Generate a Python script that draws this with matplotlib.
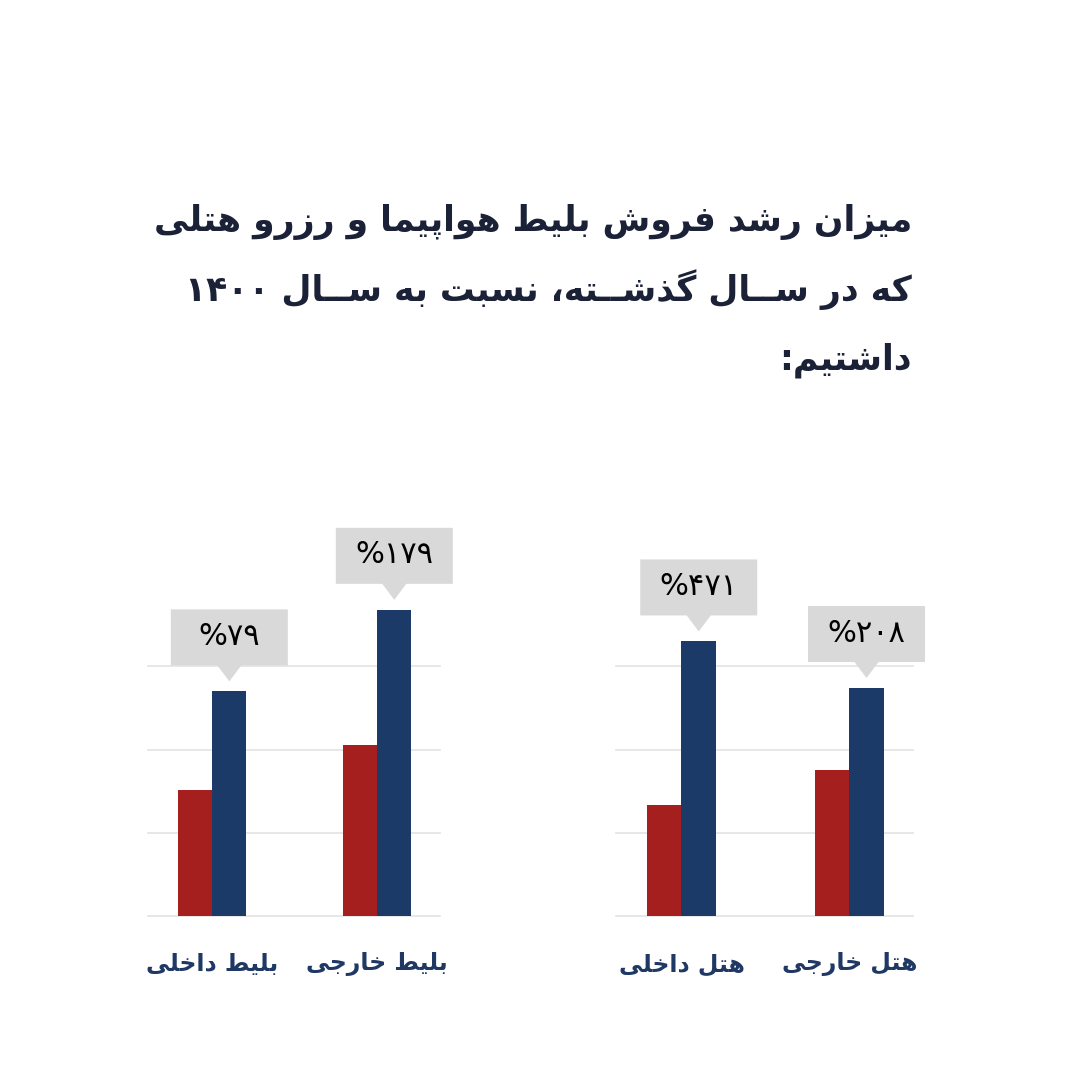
import re
import matplotlib
matplotlib.use("Agg")
import matplotlib.pyplot as plt
from matplotlib.patches import Polygon
from matplotlib.transforms import Affine2D

# ---------------- data ----------------
title_lines = ["میزان رشد فروش بلیط هواپیما و رزرو هتلی",
               "که در ســال گذشــته، نسبت به ســال ۱۴۰۰",
               "داشتیم:"]
ticket_cats = ["بلیط داخلی", "بلیط خارجی"]
ticket_prev = [1.51, 2.05]
ticket_curr = [2.70, 3.68]
ticket_growth = ["%۷۹", "%۱۷۹"]
hotel_cats = ["هتل داخلی", "هتل خارجی"]
hotel_prev = [1.33, 1.76]
hotel_curr = [3.30, 2.74]
hotel_growth = ["%۴۷۱", "%۲۰۸"]

# ---------------- minimal Arabic/Persian shaping ----------------
FORMS = {
    '\u0627': ('\uFE8D', '\uFE8E', None, None),
    '\u0628': ('\uFE8F', '\uFE90', '\uFE91', '\uFE92'),
    '\u062A': ('\uFE95', '\uFE96', '\uFE97', '\uFE98'),
    '\u062B': ('\uFE99', '\uFE9A', '\uFE9B', '\uFE9C'),
    '\u062C': ('\uFE9D', '\uFE9E', '\uFE9F', '\uFEA0'),
    '\u062D': ('\uFEA1', '\uFEA2', '\uFEA3', '\uFEA4'),
    '\u062E': ('\uFEA5', '\uFEA6', '\uFEA7', '\uFEA8'),
    '\u062F': ('\uFEA9', '\uFEAA', None, None),
    '\u0630': ('\uFEAB', '\uFEAC', None, None),
    '\u0631': ('\uFEAD', '\uFEAE', None, None),
    '\u0632': ('\uFEAF', '\uFEB0', None, None),
    '\u0633': ('\uFEB1', '\uFEB2', '\uFEB3', '\uFEB4'),
    '\u0634': ('\uFEB5', '\uFEB6', '\uFEB7', '\uFEB8'),
    '\u0635': ('\uFEB9', '\uFEBA', '\uFEBB', '\uFEBC'),
    '\u0636': ('\uFEBD', '\uFEBE', '\uFEBF', '\uFEC0'),
    '\u0637': ('\uFEC1', '\uFEC2', '\uFEC3', '\uFEC4'),
    '\u0638': ('\uFEC5', '\uFEC6', '\uFEC7', '\uFEC8'),
    '\u0639': ('\uFEC9', '\uFECA', '\uFECB', '\uFECC'),
    '\u063A': ('\uFECD', '\uFECE', '\uFECF', '\uFED0'),
    '\u0641': ('\uFED1', '\uFED2', '\uFED3', '\uFED4'),
    '\u0642': ('\uFED5', '\uFED6', '\uFED7', '\uFED8'),
    '\u0644': ('\uFEDD', '\uFEDE', '\uFEDF', '\uFEE0'),
    '\u0645': ('\uFEE1', '\uFEE2', '\uFEE3', '\uFEE4'),
    '\u0646': ('\uFEE5', '\uFEE6', '\uFEE7', '\uFEE8'),
    '\u0647': ('\uFEE9', '\uFEEA', '\uFEEB', '\uFEEC'),
    '\u0648': ('\uFEED', '\uFEEE', None, None),
    '\u06CC': ('\uFBFC', '\uFBFD', '\uFBFE', '\uFBFF'),
    '\u06A9': ('\uFB8E', '\uFB8F', '\uFB90', '\uFB91'),
    '\u06AF': ('\uFB92', '\uFB93', '\uFB94', '\uFB95'),
    '\u067E': ('\uFB56', '\uFB57', '\uFB58', '\uFB59'),
    '\u0686': ('\uFB7A', '\uFB7B', '\uFB7C', '\uFB7D'),
    '\u0698': ('\uFB8A', '\uFB8B', None, None),
}
TATWEEL = '\u0640'


def _dual(c):
    return c == TATWEEL or (c in FORMS and FORMS[c][2] is not None)


def _joining(c):
    return c == TATWEEL or c in FORMS


def shape(text):
    chars = [c for c in text if c != '\u200c']
    out = []
    i = 0
    n = len(chars)
    while i < n:
        c = chars[i]
        prev_c = i > 0 and _dual(chars[i - 1])
        if c == '\u0644' and i + 1 < n and chars[i + 1] == '\u0627':
            out.append('\uFEFC' if prev_c else '\uFEFB')
            i += 2
            continue
        if c == TATWEEL or c not in FORMS:
            out.append(c)
            i += 1
            continue
        next_c = i + 1 < n and _joining(chars[i + 1])
        iso, fin, ini, med = FORMS[c]
        if ini is not None and prev_c and next_c:
            out.append(med)
        elif prev_c:
            out.append(fin)
        elif ini is not None and next_c:
            out.append(ini)
        else:
            out.append(iso)
        i += 1
    s = ''.join(out)[::-1]
    return re.sub(r'[0-9\u06F0-\u06F9%\u066A.]+', lambda m: m.group(0)[::-1], s)


# ---------------- figure ----------------
FONT = ["DejaVu Sans"]
plt.rcParams['font.family'] = FONT
fig = plt.figure(figsize=(10.8, 10.8), dpi=100)
fig.patch.set_facecolor('white')

RED = '#a51f1f'
BLUE = '#1b3a68'
GRID = '#e3e3e3'
LABEL = '#1f3864'
TITLE = '#1b2238'
BOX = '#d9d9d9'

W, H = 1080, 1080
bottom_px = 916
top_px = 500


def make_axes(left_px, right_px, cats, prev, curr, growth):
    ax = fig.add_axes([left_px / W, 1 - bottom_px / H,
                       (right_px - left_px) / W, (bottom_px - top_px) / H])
    ax.set_xlim(-0.39, 1.38)
    ax.set_ylim(0, 5)
    x = list(range(len(cats)))
    bw = 0.206
    ax.bar([v - bw / 2 for v in x], prev, width=bw, color=RED, zorder=3)
    ax.bar([v + bw / 2 for v in x], curr, width=bw, color=BLUE, zorder=3)
    ax.set_yticks([0, 1, 2, 3])
    ax.yaxis.grid(True, color=GRID, linewidth=1.2, clip_on=False)
    for gl in ax.get_ygridlines():
        gl.set_clip_on(False)
    ax.set_axisbelow(True)
    for sp in ax.spines.values():
        sp.set_visible(False)
    ax.tick_params(axis='y', length=0, labelleft=False)
    ax.set_xticks(x)
    ax.set_xticklabels([shape(c) for c in cats], fontsize=17, fontweight='bold',
                       color=LABEL)
    ax.tick_params(axis='x', length=0, pad=26)
    ax.set_facecolor('none')
    fig.canvas.draw()
    for xi, yi, g in zip(x, curr, growth):
        px, py = ax.transData.transform((xi + bw / 2, yi))
        verts = [(0, 10), (-12, 26), (-58.5, 26), (-58.5, 82), (58.5, 82),
                 (58.5, 26), (12, 26)]
        poly = Polygon(verts, closed=True, facecolor=BOX, edgecolor='none',
                       transform=Affine2D().translate(px, py), clip_on=False,
                       zorder=5)
        fig.add_artist(poly)
        fig.text(px / W, (py + 55) / H, shape(g), ha='center', va='center',
                 fontsize=22, color='black', zorder=6)
    return ax


make_axes(148, 440, ticket_cats, ticket_prev, ticket_curr, ticket_growth)
make_axes(616, 913, hotel_cats, hotel_prev, hotel_curr, hotel_growth)

ys = [222, 290, 360]
title_texts = []
for line, y in zip(title_lines, ys):
    t = fig.text(912 / W, 1 - y / H, shape(line), ha='right', va='center',
                 fontsize=30, fontweight='bold', color=TITLE)
    title_texts.append(t)
fig.canvas.draw()
r = fig.canvas.get_renderer()
w0 = title_texts[0].get_window_extent(r).width
fs = 30 * 760.0 / w0
for t in title_texts:
    t.set_fontsize(fs)

fig.savefig('out.png', dpi=100, facecolor='white')
